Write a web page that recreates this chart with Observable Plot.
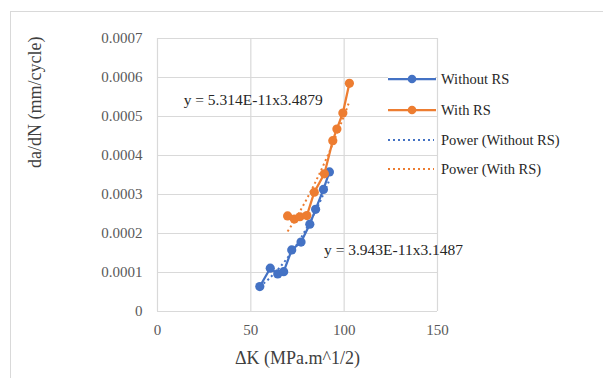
<!DOCTYPE html>
<html>
<head>
<meta charset="utf-8">
<script src="https://cdn.jsdelivr.net/npm/d3@7"></script>
<script src="https://cdn.jsdelivr.net/npm/@observablehq/plot@0.6"></script>
<style>
  html, body { margin: 0; padding: 0; background: #fff; }
  #wrap { position: relative; width: 603px; height: 378px; overflow: hidden; font-family: "Liberation Serif", "Times New Roman", serif; }
  #border { position: absolute; left: 10px; top: 11px; width: 700px; height: 500px; border-left: 1.5px solid #d9d9d9; border-top: 1.5px solid #d9d9d9; }
  #chart { position: absolute; left: 0; top: 0; }
  #legend { position: absolute; left: 0; top: 0; }
</style>
</head>
<body>
<div id="wrap">
  <div id="border"></div>
  <div id="chart"></div>
  <svg id="legend" width="603" height="378"></svg>
</div>
<script>
// ---- data ----
const seriesNames = ["Without RS", "With RS"];
const xWithout = [54.8, 60.4, 64.4, 67.6, 71.9, 76.9, 81.6, 84.7, 88.9, 92.1];
const yWithout = [0.000064, 0.000111, 0.0000964, 0.000102, 0.000158, 0.000178, 0.000224, 0.000262, 0.000313, 0.000358];
const xWith = [69.7, 73.3, 76.3, 80.0, 84.0, 89.4, 93.9, 96.1, 99.3, 102.8];
const yWith = [0.000245, 0.000237, 0.000243, 0.000246, 0.000306, 0.000353, 0.000438, 0.000468, 0.000509, 0.000585];
const xTicks = [0, 50, 100, 150];
const yTicks = [0, 0.0001, 0.0002, 0.0003, 0.0004, 0.0005, 0.0006, 0.0007];
const equationTexts = ["y = 5.314E-11x3.4879", "y = 3.943E-11x3.1487"];
const equationAnchors = [[14, 0.000541], [89.2, 0.000158]];
const legendLabels = ["Without RS", "With RS", "Power (Without RS)", "Power (With RS)"];
const xTitle = "ΔK (MPa.m^1/2)";
const yTitle = "da/dN (mm/cycle)";

const colors = ["#4472C4", "#ED7D31"];
const serif = "'Liberation Serif', 'Times New Roman', serif";

const toRows = (xs, ys, s) => xs.map((x, i) => ({x, y: ys[i], s}));
const rowsWithout = toRows(xWithout, yWithout, seriesNames[0]);
const rowsWith = toRows(xWith, yWith, seriesNames[1]);

// Power trendline (least squares in log-log space, as Excel does)
function powerFit(rows) {
  const lx = rows.map(d => Math.log(d.x)), ly = rows.map(d => Math.log(d.y));
  const n = rows.length, mx = d3.mean(lx), my = d3.mean(ly);
  let sxy = 0, sxx = 0;
  for (let i = 0; i < n; i++) { sxy += (lx[i]-mx)*(ly[i]-my); sxx += (lx[i]-mx)**2; }
  const b = sxy / sxx, a = Math.exp(my - b*mx);
  const [x0, x1] = d3.extent(rows, d => d.x);
  return d3.range(0, 41).map(i => { const x = x0 + (x1-x0)*i/40; return {x, y: a*Math.pow(x, b)}; });
}
const trendWithout = powerFit(rowsWithout);
const trendWith = powerFit(rowsWith);

const equations = equationTexts.map((t, i) => ({t, x: equationAnchors[i][0], y: equationAnchors[i][1]}));

const fmt = d => d === 0 ? "0" : d.toFixed(4);

const plot = Plot.plot({
  width: 603,
  height: 378,
  marginLeft: 157,
  marginRight: 166,
  marginTop: 38,
  marginBottom: 67,
  x: {domain: [0, 150]},
  y: {domain: [0, 0.0007]},
  style: {fontFamily: serif, fontSize: "15px", color: "#404040", background: "transparent"},
  marks: [
    Plot.gridY(yTicks, {stroke: "#d9d9d9", strokeOpacity: 1, strokeWidth: 1.2}),
    Plot.gridX(xTicks, {stroke: "#d9d9d9", strokeOpacity: 1, strokeWidth: 1.2}),
    Plot.axisY(yTicks, {tickSize: 0, tickPadding: 15, tickFormat: fmt, label: null, fill: "#595959", fontSize: 15, fontFamily: serif}),
    Plot.axisX(xTicks, {tickSize: 0, tickPadding: 13, label: null, fill: "#595959", fontSize: 15, fontFamily: serif}),
    Plot.line(trendWithout, {x: "x", y: "y", stroke: colors[0], strokeWidth: 2, strokeDasharray: "2 3", strokeLinecap: "butt"}),
    Plot.line(trendWith, {x: "x", y: "y", stroke: colors[1], strokeWidth: 2, strokeDasharray: "2 3", strokeLinecap: "butt"}),
    Plot.line(rowsWithout, {x: "x", y: "y", stroke: colors[0], strokeWidth: 2.25}),
    Plot.dot(rowsWithout, {x: "x", y: "y", fill: colors[0], r: 4.6}),
    Plot.line(rowsWith, {x: "x", y: "y", stroke: colors[1], strokeWidth: 2.25}),
    Plot.dot(rowsWith, {x: "x", y: "y", fill: colors[1], r: 4.6}),
    Plot.text(equations, {x: "x", y: "y", text: "t", textAnchor: "start", fontSize: 15.5, fill: "#262626", fontFamily: serif}),
    Plot.text([yTitle], {frameAnchor: "left", dx: -122, dy: -7, rotate: -90, fontSize: 18, fill: "#404040", fontFamily: serif}),
    Plot.text([xTitle], {frameAnchor: "bottom", dy: 52, fontSize: 18, fill: "#404040", fontFamily: serif})
  ]
});
document.getElementById("chart").appendChild(plot);

// ---- legend ----
const lg = d3.select("#legend");
const rowsY = [79, 110, 140, 169];
legendLabels.forEach((lab, i) => {
  const y = rowsY[i];
  const c = colors[i % 2];
  if (i === 0) lg.append("rect").attr("x", 388).attr("y", 70).attr("width", 47).attr("height", 18).attr("fill", "#fff");
  if (i < 2) {
    lg.append("line").attr("x1", 388).attr("x2", 436).attr("y1", y).attr("y2", y).attr("stroke", c).attr("stroke-width", 2.25);
    lg.append("circle").attr("cx", 412).attr("cy", y).attr("r", 4.3).attr("fill", c);
  } else {
    lg.append("line").attr("x1", 388).attr("x2", 434).attr("y1", y).attr("y2", y).attr("stroke", c).attr("stroke-width", 2).attr("stroke-dasharray", "2 3");
  }
  lg.append("text").attr("x", 441).attr("y", y).attr("dy", "0.35em").attr("font-size", 14.5)
    .attr("font-family", serif).attr("fill", "#262626").text(lab);
});
</script>
</body>
</html>
